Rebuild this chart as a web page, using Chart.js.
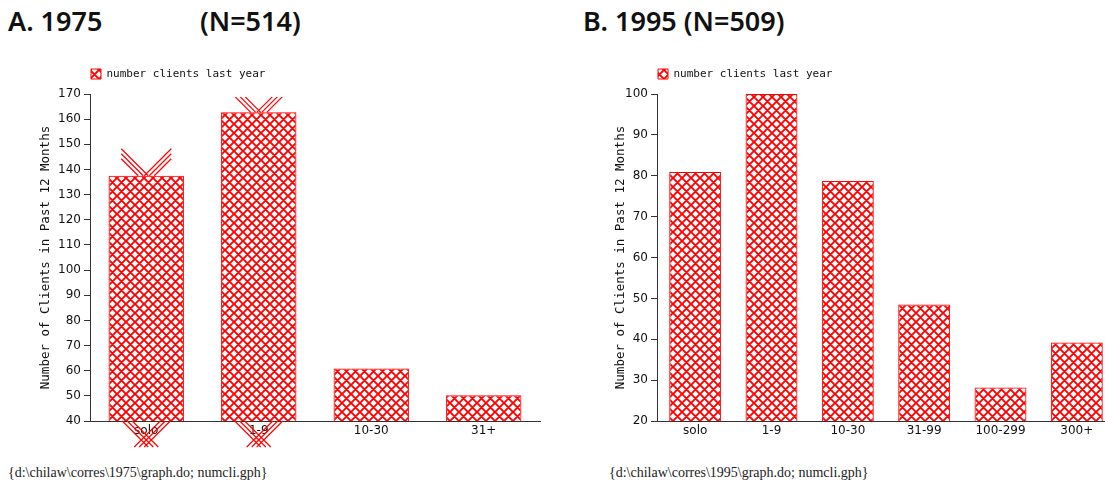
<!DOCTYPE html>
<html>
<head>
<meta charset="utf-8">
<script src="https://cdn.jsdelivr.net/npm/chart.js@4"></script>
<style>
body { margin: 0; width: 1105px; height: 485px; overflow: hidden; background: #fff; position: relative; }
.title { position: absolute; top: 2px; font-family: "Noto Sans", sans-serif; font-weight: 600; font-size: 27px; color: #111; white-space: pre; }
.foot { position: absolute; top: 465px; font-family: "Liberation Serif", serif; font-size: 14px; color: #222; white-space: pre; }
.box { position: absolute; top: 52px; width: 560px; height: 410px; }
</style>
</head>
<body>
<div class="title" style="left:8px">A. 1975</div>
<div class="title" style="left:200px">(N=514)</div>
<div class="title" style="left:583px">B. 1995 (N=509)</div>
<div class="box" style="left:0px"><canvas id="chart75"></canvas></div>
<div class="box" style="left:565px"><canvas id="chart95"></canvas></div>
<div class="foot" style="left:8px">{d:\chilaw\corres\1975\graph.do; numcli.gph}</div>
<div class="foot" style="left:609px">{d:\chilaw\corres\1995\graph.do; numcli.gph}</div>

<script>
// firm size groups and number of clients in past year
const labels75 = ["solo", "1-9", "10-30", "31+"];
const clients75 = [137.5, 162.7, 60.9, 50.2];
const labels95 = ["solo", "1-9", "10-30", "31-99", "100-299", "300+"];
const clients95 = [80.9, 100, 78.7, 48.5, 28.2, 39.2];

const seriesName = "number clients last year";
const yTitle = "Number of Clients in Past 12 Months";

// bars in the 1975 panel whose hatching spills outside the bar
const spill75 = [0, 1];

function hatch() {
    let n = 9;
    let c = document.createElement("canvas");
    c.width = n;
    c.height = n;
    let g = c.getContext("2d");
    g.strokeStyle = "#ff0000";
    g.lineWidth = 1.9;
    g.beginPath();
    for (const dx of [-n, 0, n]) {
        g.moveTo(dx, 0); g.lineTo(dx + n, n);
        g.moveTo(dx + n, 0); g.lineTo(dx, n);
    }
    g.stroke();
    return g.createPattern(c, "repeat");
}

// move the legend so it starts at the y axis line
const legendShift = {
    id: "legendShift",
    afterLayout(chart) {
        let lg = chart.legend;
        let dx = chart.chartArea.left + 1 - lg.options.labels.padding - lg.left;
        lg.left += dx;
        lg.right += dx;
        lg.top -= 4.5;
        lg.bottom -= 4.5;
    }
};

const spill = {
    id: "spill",
    afterDatasetsDraw(chart, args, opts) {
        if (!opts.bars) return;
        let ctx = chart.ctx;
        let area = chart.chartArea;
        let meta = chart.getDatasetMeta(0);
        let base = chart.scales.y.getBasePixel();
        ctx.save();
        ctx.beginPath();
        ctx.rect(0, area.top + 3, chart.width, chart.height);
        ctx.clip();
        ctx.strokeStyle = "#ff0000";
        ctx.lineWidth = 1.2;
        ctx.beginPath();
        opts.bars.forEach(i => {
            let b = meta.data[i];
            for (let k = 0; k < 3; k++) {
                let s = 5 * k;
                // above the bar top
                ctx.moveTo(b.x - 25, b.y - 27 + s); ctx.lineTo(b.x + 2 - s, b.y);
                ctx.moveTo(b.x + 25, b.y - 27 + s); ctx.lineTo(b.x - 2 + s, b.y);
                // below the base
                ctx.moveTo(b.x - 24 + s, base); ctx.lineTo(b.x + 2 + s, base + 26);
                ctx.moveTo(b.x + 24 - s, base); ctx.lineTo(b.x - 2 - s, base + 26);
            }
        });
        ctx.stroke();
        ctx.restore();
    }
};

function makeChart(id, labels, values, yMin, yMax, padLeft, padRight, axisWidth, barPct, bars) {
    let fill = hatch();
    let ctx = document.getElementById(id);
    return new Chart(ctx, {
        type: "bar",
        data: {
            labels: labels,
            datasets: [{
                label: seriesName,
                data: values,
                backgroundColor: fill,
                borderColor: "#ff0000",
                borderWidth: 1,
                categoryPercentage: 1,
                barPercentage: barPct
            }]
        },
        plugins: [legendShift, spill],
        options: {
            responsive: true,
            maintainAspectRatio: false,
            animation: false,
            layout: { padding: { left: padLeft, right: padRight, top: 15, bottom: 21 } },
            plugins: {
                legend: {
                    align: "start",
                    labels: {
                        boxWidth: 10,
                        boxHeight: 10,
                        padding: 6,
                        color: "#111",
                        font: { family: "DejaVu Sans Mono", size: 11 }
                    }
                },
                tooltip: { enabled: false },
                spill: { bars: bars }
            },
            scales: {
                x: {
                    grid: { display: false, drawTicks: false },
                    border: { display: true, color: "#333", width: 1 },
                    ticks: { color: "#111", padding: 3, font: { family: "DejaVu Sans", size: 12 } },
                    afterFit(scale) { scale.height = 20; }
                },
                y: {
                    min: yMin,
                    max: yMax,
                    ticks: { stepSize: 10, color: "#111", padding: 3, font: { family: "DejaVu Sans", size: 12 } },
                    grid: { drawOnChartArea: false, drawTicks: true, tickLength: 6, color: "#333" },
                    border: { display: true, color: "#333", width: 1 },
                    title: {
                        display: true,
                        text: yTitle,
                        color: "#111",
                        padding: { top: 4, bottom: 0 },
                        font: { family: "DejaVu Sans Mono", size: 12.5 }
                    },
                    afterFit(scale) { scale.width = axisWidth; }
                }
            }
        }
    });
}

makeChart("chart75", labels75, clients75, 40, 170, 34, 20, 56, 0.67, spill75);
makeChart("chart95", labels95, clients95, 20, 100, 44, 10, 48, 0.68, null);
</script>
</body>
</html>
